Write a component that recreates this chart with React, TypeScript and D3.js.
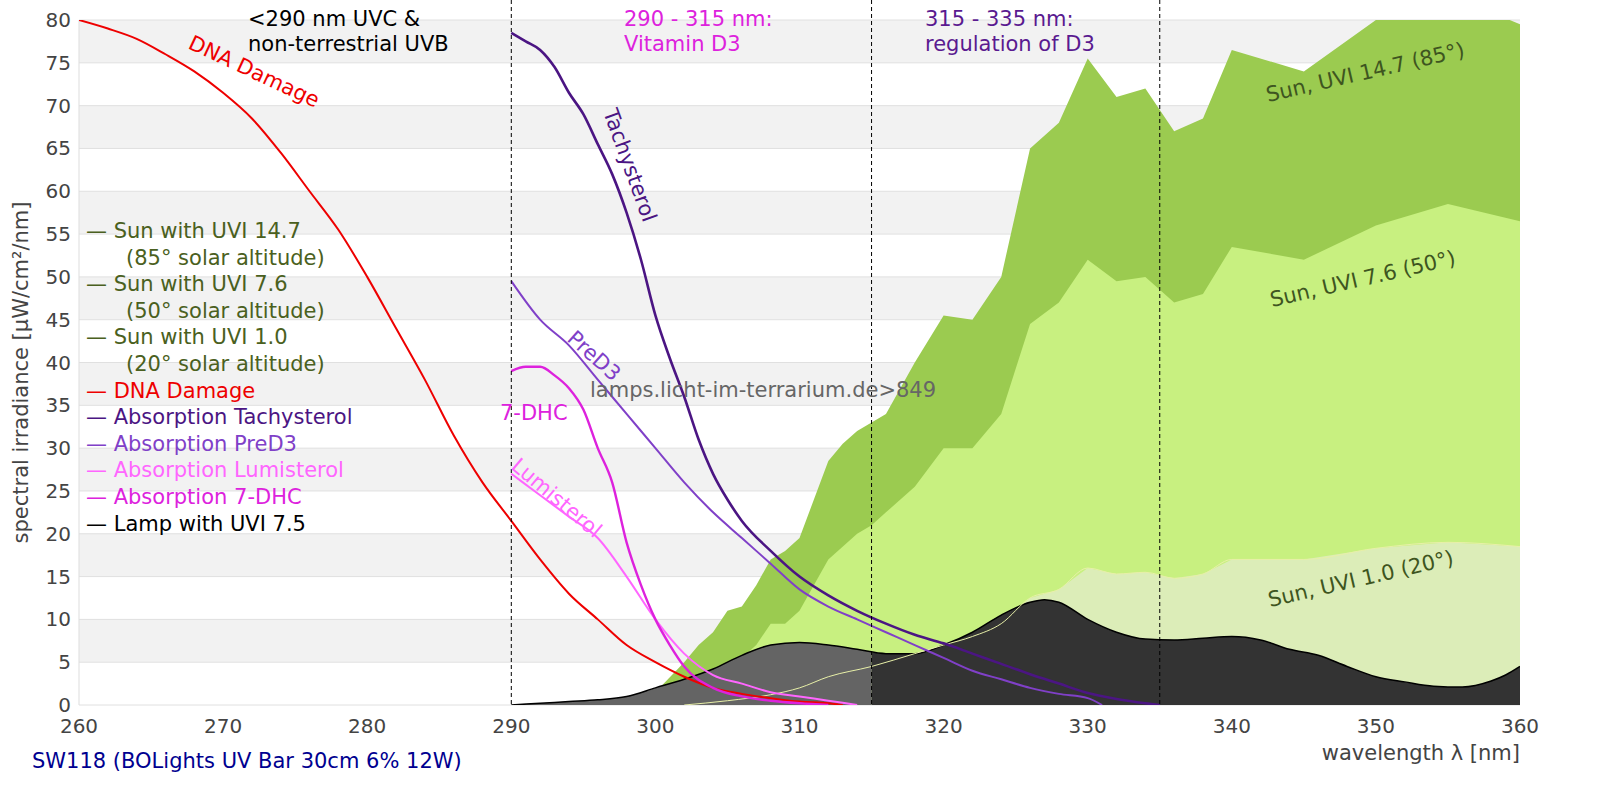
import React from 'react';
import * as d3 from 'd3';

type Pt = [number, number];

const sun85: Pt[] = [[299,0],[300,1.5],[302,5],[303,7],[304,8.5],[305,11],[306,11.5],[307,14],[308,17],[309,18],[310,19.5],[311,24],[312,28.5],[313,30.5],[314,32],[316,34],[318,40],[320,45.5],[322,45],[324,50],[326,65],[328,68],[330,75.5],[332,71],[334,72],[336,67],[338,68.5],[340,76.5],[345,74],[350,80],[355,83],[360,79.5]];
const sun50: Pt[] = [[301,0],[303,2],[305,4],[307,7],[308,9.5],[309,9.5],[310,11],[312,17],[314,20],[315,21],[316,22.5],[318,25.5],[320,30],[322,30],[324,34],[326,44.5],[328,47],[330,52],[332,49.5],[334,50],[336,47],[338,48],[340,53.5],[345,52],[350,56],[355,58.5],[360,56.5]];
const sun20: Pt[] = [[302,0],[305,0.5],[308,1.2],[310,2],[312,3.3],[315,4.5],[318,6],[320,7],[322,8],[324,9.5],[326,12.5],[328,13.5],[330,16],[332,15.3],[334,15.5],[336,14.8],[338,15.3],[340,17],[345,17],[350,18.3],[355,19],[360,18.5]];
const lamp: Pt[] = [[290,0],[292,0.2],[294,0.4],[296,0.6],[298,1],[300,2],[302,3],[304,4.2],[306,5.8],[308,7],[310,7.3],[312,7],[314,6.5],[316,6],[318,6],[320,7],[322,8.5],[324,10.5],[326,12],[327,12.3],[328,12],[330,10],[332,8.5],[334,7.7],[336,7.6],[338,7.8],[340,8],[342,7.6],[344,6.5],[346,5.8],[348,4.5],[350,3.3],[352,2.7],[354,2.2],[356,2.1],[358,2.8],[359,3.5],[360,4.5]];
const dna: Pt[] = [[260,80],[262,79],[264,77.8],[266,76],[268,74],[270,71.5],[272,68.5],[274,64.5],[276,60],[278,55.5],[280,50],[282,44],[284,38],[286,31.5],[288,26],[290,21.5],[292,17],[294,13],[296,10],[298,7],[300,5],[302,3.3],[304,2],[306,1.3],[308,0.8],[310,0.4],[312,0.2],[313,0]];
const tachy: Pt[] = [[290,78.5],[291,77.5],[292,76.5],[293,74.5],[294,71.5],[295,69],[296,65.5],[297,62],[298,57.5],[299,52],[300,45.5],[301,40.5],[302,36],[303,31],[304,27],[305,24],[306,21.5],[308,18],[310,15],[312,12.8],[314,11],[316,9.5],[318,8.2],[320,7.2],[322,6],[324,4.8],[326,3.6],[328,2.5],[330,1.4],[332,0.7],[334,0.2],[335,0]];
const preD3: Pt[] = [[290,49.5],[292,45],[294,42],[296,38],[298,34],[300,30],[302,26],[304,22.5],[306,19.5],[308,16.5],[310,13.5],[312,11.5],[314,10],[316,8.5],[318,7],[320,5.5],[322,4],[324,3],[326,2],[328,1.3],[330,0.8],[331,0]];
const dhc7: Pt[] = [[290,39],[291,39.5],[292,39.5],[293,38.5],[294,37],[295,34.5],[296,30],[297,26],[298,19],[299,14],[300,10],[301,7],[302,4.5],[304,2],[306,1],[308,0.5],[310,0.2],[312,0]];
const lumi: Pt[] = [[290,27],[292,24.5],[294,22],[296,19.5],[298,15],[300,10],[302,6],[304,3.5],[306,2.5],[308,1.5],[310,1],[312,0.5],[314,0]];

const xTicks = d3.range(260, 361, 10);
const yTicks = d3.range(0, 81, 5);
const dividers = [290, 315, 335];

// [text, colour, indented]
const legend: [string, string, boolean][] = [
  ['— Sun with UVI 14.7', '#4a6020', false], ['(85° solar altitude)', '#4a6020', true],
  ['— Sun with UVI 7.6', '#4a6020', false], ['(50° solar altitude)', '#4a6020', true],
  ['— Sun with UVI 1.0', '#4a6020', false], ['(20° solar altitude)', '#4a6020', true],
  ['— DNA Damage', '#ee0000', false], ['— Absorption Tachysterol', '#4b1583', false],
  ['— Absorption PreD3', '#8040c8', false], ['— Absorption Lumisterol', '#ff66ff', false],
  ['— Absorption 7-DHC', '#dd22dd', false], ['— Lamp with UVI 7.5', '#000', false],
];

export default function App() {
  const W = 1600, H = 800;
  const m = { l: 79, r: 1520, t: 20, b: 705 };
  const x = d3.scaleLinear().domain([260, 360]).range([m.l, m.r]);
  const y = d3.scaleLinear().domain([0, 80]).range([m.b, m.t]);
  const area = d3.area<Pt>().x(d => x(d[0])).y0(y(0)).y1(d => y(d[1]));
  const line = d3.line<Pt>().x(d => x(d[0])).y(d => y(d[1])).curve(d3.curveMonotoneX);
  const lampArea = d3.area<Pt>().x(d => x(d[0])).y0(y(0)).y1(d => y(d[1])).curve(d3.curveMonotoneX);
  const font = 'DejaVu Sans, sans-serif';
  return (
    <div style={{ position: 'fixed', left: 0, top: 0, width: W, height: H, overflow: 'hidden', background: '#fff' }}>
    <svg width={W} height={H} style={{ display: 'block' }} fontFamily={font}>
      <defs>
        <clipPath id="plot"><rect x={m.l} y={m.t} width={m.r - m.l} height={m.b - m.t} /></clipPath>
        <clipPath id="left"><rect x={m.l} y={m.t} width={x(315) - m.l} height={m.b - m.t} /></clipPath>
        <clipPath id="right"><rect x={x(315)} y={m.t} width={m.r - x(315)} height={m.b - m.t} /></clipPath>
      </defs>
      {yTicks.slice(0, -1).map(v => v % 10 === 5 ? (
        <rect key={v} x={m.l} y={y(v + 5)} width={m.r - m.l} height={y(v) - y(v + 5)} fill="#f2f2f2" />
      ) : null)}
      {yTicks.map(v => <line key={v} x1={m.l} x2={m.r} y1={y(v)} y2={y(v)} stroke="#e0e0e0" />)}
      <line x1={m.l} x2={m.l} y1={m.t} y2={m.b} stroke="#ddd" />
      <g clipPath="url(#plot)">
        <path d={area(sun85)!} fill="#9bcb50" />
        <path d={area(sun50)!} fill="#c8f080" />
        <path d={area(sun20)!} fill="#dcedb8" />
        <path d={lampArea(lamp)!} fill="#646464" clipPath="url(#left)" />
        <path d={lampArea(lamp)!} fill="#333" clipPath="url(#right)" />
        <path d={line(lamp)!} fill="none" stroke="#000" strokeWidth={1.5} />
        <path d={line(sun20)!} fill="none" stroke="#e8f0a8" strokeWidth={1} />
        <path d={line(dna)!} fill="none" stroke="#ee0000" strokeWidth={2} />
        <path d={line(lumi)!} fill="none" stroke="#ff66ff" strokeWidth={2} />
        <path d={line(dhc7)!} fill="none" stroke="#dd22dd" strokeWidth={2.4} />
        <path d={line(preD3)!} fill="none" stroke="#8040c8" strokeWidth={2} />
        <path d={line(tachy)!} fill="none" stroke="#4b1583" strokeWidth={2.6} />
      </g>
      {dividers.map(v => <line key={v} x1={x(v)} x2={x(v)} y1={0} y2={m.b} stroke="#000" strokeDasharray="4,3" />)}
      {yTicks.map(v => <text key={v} x={m.l - 8} y={y(v)} dy="0.35em" textAnchor="end" fontSize={20} fill="#444">{v}</text>)}
      {xTicks.map(v => <text key={v} x={x(v)} y={m.b + 28} textAnchor="middle" fontSize={20} fill="#444">{v}</text>)}
      <text x={m.r} y={760} textAnchor="end" fontSize={21} fill="#444">wavelength λ [nm]</text>
      <text transform={`translate(28,${(m.t + m.b) / 2 + 10}) rotate(-90)`} textAnchor="middle" fontSize={21} fill="#444">spectral irradiance [µW/cm²/nm]</text>
      <text x={32} y={768} fontSize={21} fill="#000090">SW118 (BOLights UV Bar 30cm 6% 12W)</text>
      <text x={248} y={26} fontSize={21}>{'<290 nm UVC &'}</text>
      <text x={248} y={51} fontSize={21}>non-terrestrial UVB</text>
      <text x={624} y={26} fontSize={21} fill="#dd22dd">290 - 315 nm:</text>
      <text x={624} y={51} fontSize={21} fill="#dd22dd">Vitamin D3</text>
      <text x={925} y={26} fontSize={21} fill="#5a1a90">315 - 335 nm:</text>
      <text x={925} y={51} fontSize={21} fill="#5a1a90">regulation of D3</text>
      {legend.map(([t, c, ind], i) => (
        <text key={i} x={ind ? 126 : 86} y={238 + i * 26.6} fontSize={21} fill={c}>{t}</text>
      ))}
      <text transform="translate(187,48) rotate(25)" fontSize={21} fill="#ee0000">DNA Damage</text>
      <text transform="translate(603,112) rotate(70)" fontSize={21} fill="#4b1583">Tachysterol</text>
      <text transform="translate(566,340) rotate(42)" fontSize={21} fill="#8040c8">PreD3</text>
      <text x={500} y={420} fontSize={21} fill="#dd22dd">7-DHC</text>
      <text transform="translate(510,468) rotate(40)" fontSize={21} fill="#ff66ff">Lumisterol</text>
      <text x={590} y={397} fontSize={21} fill="#666">lamps.licht-im-terrarium.de&gt;849</text>
      <text transform="translate(1268,102) rotate(-13)" fontSize={21} fill="#3e5520">Sun, UVI 14.7 (85°)</text>
      <text transform="translate(1272,307) rotate(-13)" fontSize={21} fill="#3e5520">Sun, UVI 7.6 (50°)</text>
      <text transform="translate(1270,607) rotate(-13)" fontSize={21} fill="#3e5520">Sun, UVI 1.0 (20°)</text>
    </svg>
    </div>
  );
}
